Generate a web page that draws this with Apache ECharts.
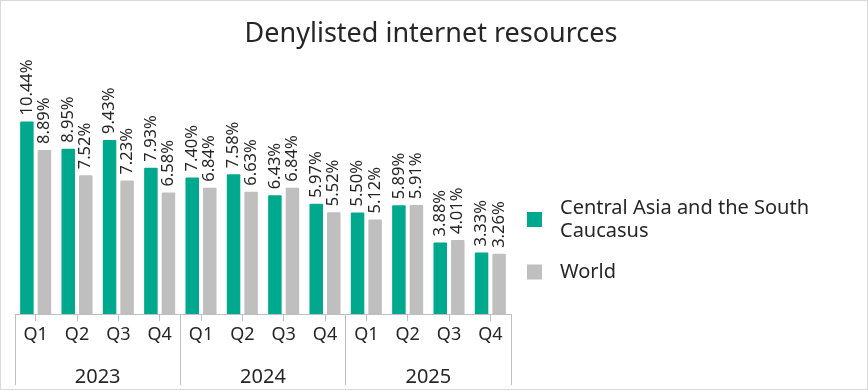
<!DOCTYPE html>
<html>
<head>
<meta charset="utf-8">
<script src="https://cdn.jsdelivr.net/npm/echarts@6/dist/echarts.min.js"></script>
<style>
html,body{margin:0;padding:0;background:#fff;}
#frame{width:868px;height:390px;box-sizing:border-box;border:1px solid #d9d9d9;position:relative;overflow:hidden;}
#chart{position:absolute;left:-1px;top:-1px;width:868px;height:390px;}
</style>
</head>
<body>
<div id="frame"><div id="chart"></div></div>
<script>
var titleText = 'Denylisted internet resources';
var quarters = ['Q1','Q2','Q3','Q4','Q1','Q2','Q3','Q4','Q1','Q2','Q3','Q4'];
var years = ['2023','2024','2025'];
var seriesNames = ['Central Asia and the South Caucasus','World'];
var caValues = [10.44, 8.95, 9.43, 7.93, 7.40, 7.58, 6.43, 5.97, 5.50, 5.89, 3.88, 3.33];
var worldValues = [8.89, 7.52, 7.23, 6.58, 6.84, 6.63, 6.84, 5.52, 5.12, 5.91, 4.01, 3.26];
var colors = ['#00a88e', '#bfbfbf'];

var FONT = '"Noto Sans", sans-serif';
var chart = echarts.init(document.getElementById('chart'), null, {renderer:'canvas'});

function barLabel(){
  return {
    show: true,
    position: 'top',
    rotate: 90,
    align: 'left',
    verticalAlign: 'middle',
    distance: 6,
    fontFamily: FONT,
    fontSize: 16.5,
    color: '#262626',
    formatter: function(p){ return p.value.toFixed(2) + '%'; }
  };
}

chart.setOption({
  animation: false,
  textStyle: {fontFamily: FONT},
  title: {
    text: titleText,
    left: 426,
    textAlign: 'center',
    top: 16,
    textStyle: {fontFamily: FONT, fontSize: 27, fontWeight: 'normal', color: '#262626'}
  },
  legend: {
    orient: 'vertical',
    left: 522,
    top: 191.5,
    itemWidth: 15,
    itemHeight: 15,
    itemGap: 18,
    icon: 'rect',
    data: seriesNames,
    formatter: function(name){
      return name === seriesNames[0] ? 'Central Asia and the South\nCaucasus' : name;
    },
    textStyle: {fontFamily: FONT, fontSize: 20, color: '#262626', lineHeight: 23, padding: [0,0,0,13]}
  },
  grid: {left: 15, right: 357, top: 92.6, bottom: 76, containLabel: false},
  xAxis: [
    {
      type: 'category',
      data: quarters,
      position: 'bottom',
      axisLine: {show: true, lineStyle: {color: '#bfbfbf', width: 1}},
      axisTick: {show: true, alignWithLabel: true, length: 7, lineStyle: {color: '#bfbfbf'}},
      axisLabel: {fontFamily: FONT, fontSize: 18, color: '#262626', margin: 12, interval: 0}
    },
    {
      type: 'category',
      data: years,
      position: 'bottom',
      axisLine: {show: false},
      axisTick: {show: true, length: 71, lineStyle: {color: '#bfbfbf'}},
      axisLabel: {fontFamily: FONT, fontSize: 20, color: '#262626', margin: 53, interval: 0}
    }
  ],
  yAxis: {type: 'value', min: 0, max: 12, show: false, splitLine: {show: false}},
  series: [
    {
      name: seriesNames[0], type: 'bar', xAxisIndex: 0, data: caValues,
      barWidth: 13.5, barGap: '30%',
      itemStyle: {color: colors[0], borderRadius: [1,1,0,0]},
      label: barLabel()
    },
    {
      name: seriesNames[1], type: 'bar', xAxisIndex: 0, data: worldValues,
      barWidth: 13.5, barGap: '30%',
      itemStyle: {color: colors[1], borderRadius: [1,1,0,0]},
      label: barLabel()
    }
  ]
});
</script>
</body>
</html>
